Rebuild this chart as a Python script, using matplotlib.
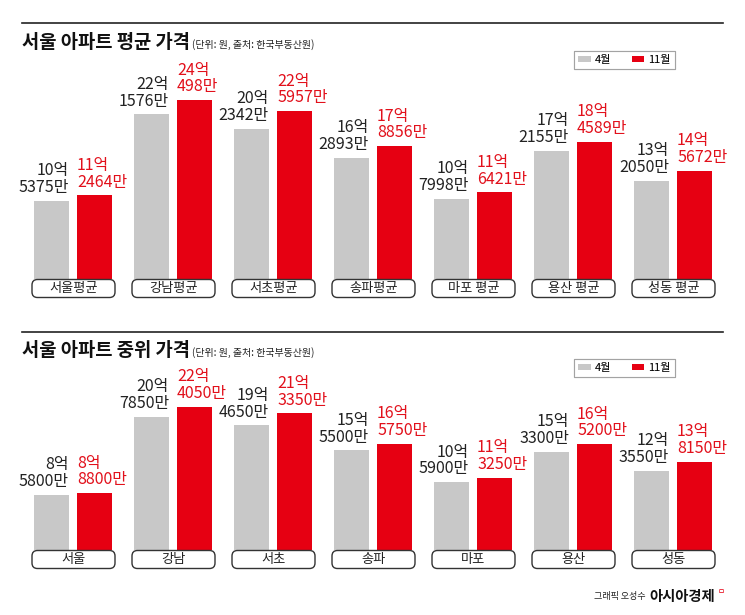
import matplotlib
matplotlib.use("Agg")
import matplotlib.pyplot as plt
from matplotlib.patches import FancyBboxPatch, Patch
from matplotlib.lines import Line2D

plt.rcParams['font.family'] = ['Noto Sans CJK KR', 'DejaVu Sans']

# values in 만원 (10000 만 = 1억)
avgCats = ["서울평균", "강남평균", "서초평균", "송파평균", "마포 평균", "용산 평균", "성동 평균"]
avgApr = [105375, 221576, 202342, 162893, 107998, 172155, 132050]
avgNov = [112464, 240498, 225957, 178856, 116421, 184589, 145672]

medCats = ["서울", "강남", "서초", "송파", "마포", "용산", "성동"]
medApr = [85800, 207850, 194650, 155500, 105900, 153300, 123550]
medNov = [88800, 224050, 213350, 165750, 113250, 165200, 138150]

seriesNames = ["4월", "11월"]
titles = ["서울 아파트 평균 가격", "서울 아파트 중위 가격"]
subtitle = "(단위: 원, 출처: 한국부동산원)"

GRAY = "#c8c8c8"
RED = "#e60012"
RED_TXT = "#e2101b"
INK = "#222222"

W, H = 745.0, 615.0


def fmtValue(v):
  return "%d억\n%d만" % (v // 10000, v % 10000)


def drawPanel(fig, topPx, basePx, pxPerEok, cats, apr, nov):
  # axes spans from topPx down to a little below the category boxes
  botPx = basePx + 22
  ax = fig.add_axes([22 / W, 1 - botPx / H, 701 / W, (botPx - topPx) / H])
  ax.set_xlim(-0.51, 6.50)
  ax.set_ylim(-(botPx - basePx) / pxPerEok, (basePx - topPx) / pxPerEok)
  ax.axis('off')

  xs = list(range(len(cats)))
  a = [v / 10000.0 for v in apr]
  n = [v / 10000.0 for v in nov]
  ax.bar([x - 0.215 for x in xs], a, width=0.355, color=GRAY, zorder=2)
  ax.bar([x + 0.215 for x in xs], n, width=0.355, color=RED, zorder=2)

  for i in xs:
    ax.annotate(fmtValue(apr[i]), xy=(i - 0.04, a[i]), xytext=(0, 3.5),
                textcoords='offset points', ha='right', va='bottom',
                fontsize=11.5, color=INK, linespacing=0.98)
    ax.annotate(fmtValue(nov[i]), xy=(i + 0.04, n[i]), xytext=(0, 3.5),
                textcoords='offset points', ha='left', va='bottom',
                fontsize=11.5, color=RED_TXT, linespacing=0.98)

    # category box under the bars
    y0 = -18.5 / pxPerEok
    h = 18.0 / pxPerEok
    box = FancyBboxPatch((i - 0.41, y0), 0.83, h,
                         boxstyle="round,pad=0,rounding_size=0.055",
                         mutation_aspect=100.0 / pxPerEok,
                         facecolor='white', edgecolor='#333333', lw=1.0,
                         zorder=4, clip_on=False)
    ax.add_patch(box)
    ax.text(i + 0.005, y0 + h / 2, cats[i], ha='center', va='center',
            fontsize=9.5, color=INK, zorder=5)
  return ax


def drawHeader(fig, rulePx, titlePx, title, legendPx):
  fig.add_artist(Line2D([22 / W, 723 / W], [1 - rulePx / H, 1 - rulePx / H],
                        transform=fig.transFigure, color=INK, lw=1.2))
  fig.text(22 / W, 1 - titlePx / H, title, ha='left', va='center',
           fontsize=13.5, fontweight='bold', color='#111111')
  fig.text(192 / W, 1 - (titlePx + 1.5) / H, subtitle, ha='left', va='center',
           fontsize=7.2, color=INK)
  handles = [Patch(facecolor=GRAY, edgecolor='none'),
             Patch(facecolor=RED, edgecolor='none')]
  leg = fig.legend(handles, seriesNames, loc='center',
                   bbox_to_anchor=(624.5 / W, 1 - legendPx / H), ncol=2,
                   frameon=True, fancybox=False, edgecolor='#999999',
                   fontsize=8, handlelength=1.1, handleheight=0.5,
                   columnspacing=1.8, handletextpad=0.4, borderpad=0.4)
  leg.get_frame().set_linewidth(0.8)
  fig.add_artist(leg)


fig = plt.figure(figsize=(7.45, 6.15), dpi=100)

drawHeader(fig, 23, 43, titles[0], 60)
drawPanel(fig, 60, 279, 7.43, avgCats, avgApr, avgNov)

drawHeader(fig, 332, 351, titles[1], 368)
drawPanel(fig, 385, 550, 6.4, medCats, medApr, medNov)

# credit
fig.text(646 / W, 1 - 597 / H, "그래픽 오성수", ha='right', va='center',
         fontsize=6.5, color=INK)
fig.text(649 / W, 1 - 597 / H, "아시아경제", ha='left', va='center',
         fontsize=10.3, fontweight='bold', color='#111111')
fig.text(718 / W, 1 - 592 / H, "ㅁ", ha='left', va='center',
         fontsize=5.5, color=RED)

fig.savefig("out.png", dpi=100, facecolor='white')
